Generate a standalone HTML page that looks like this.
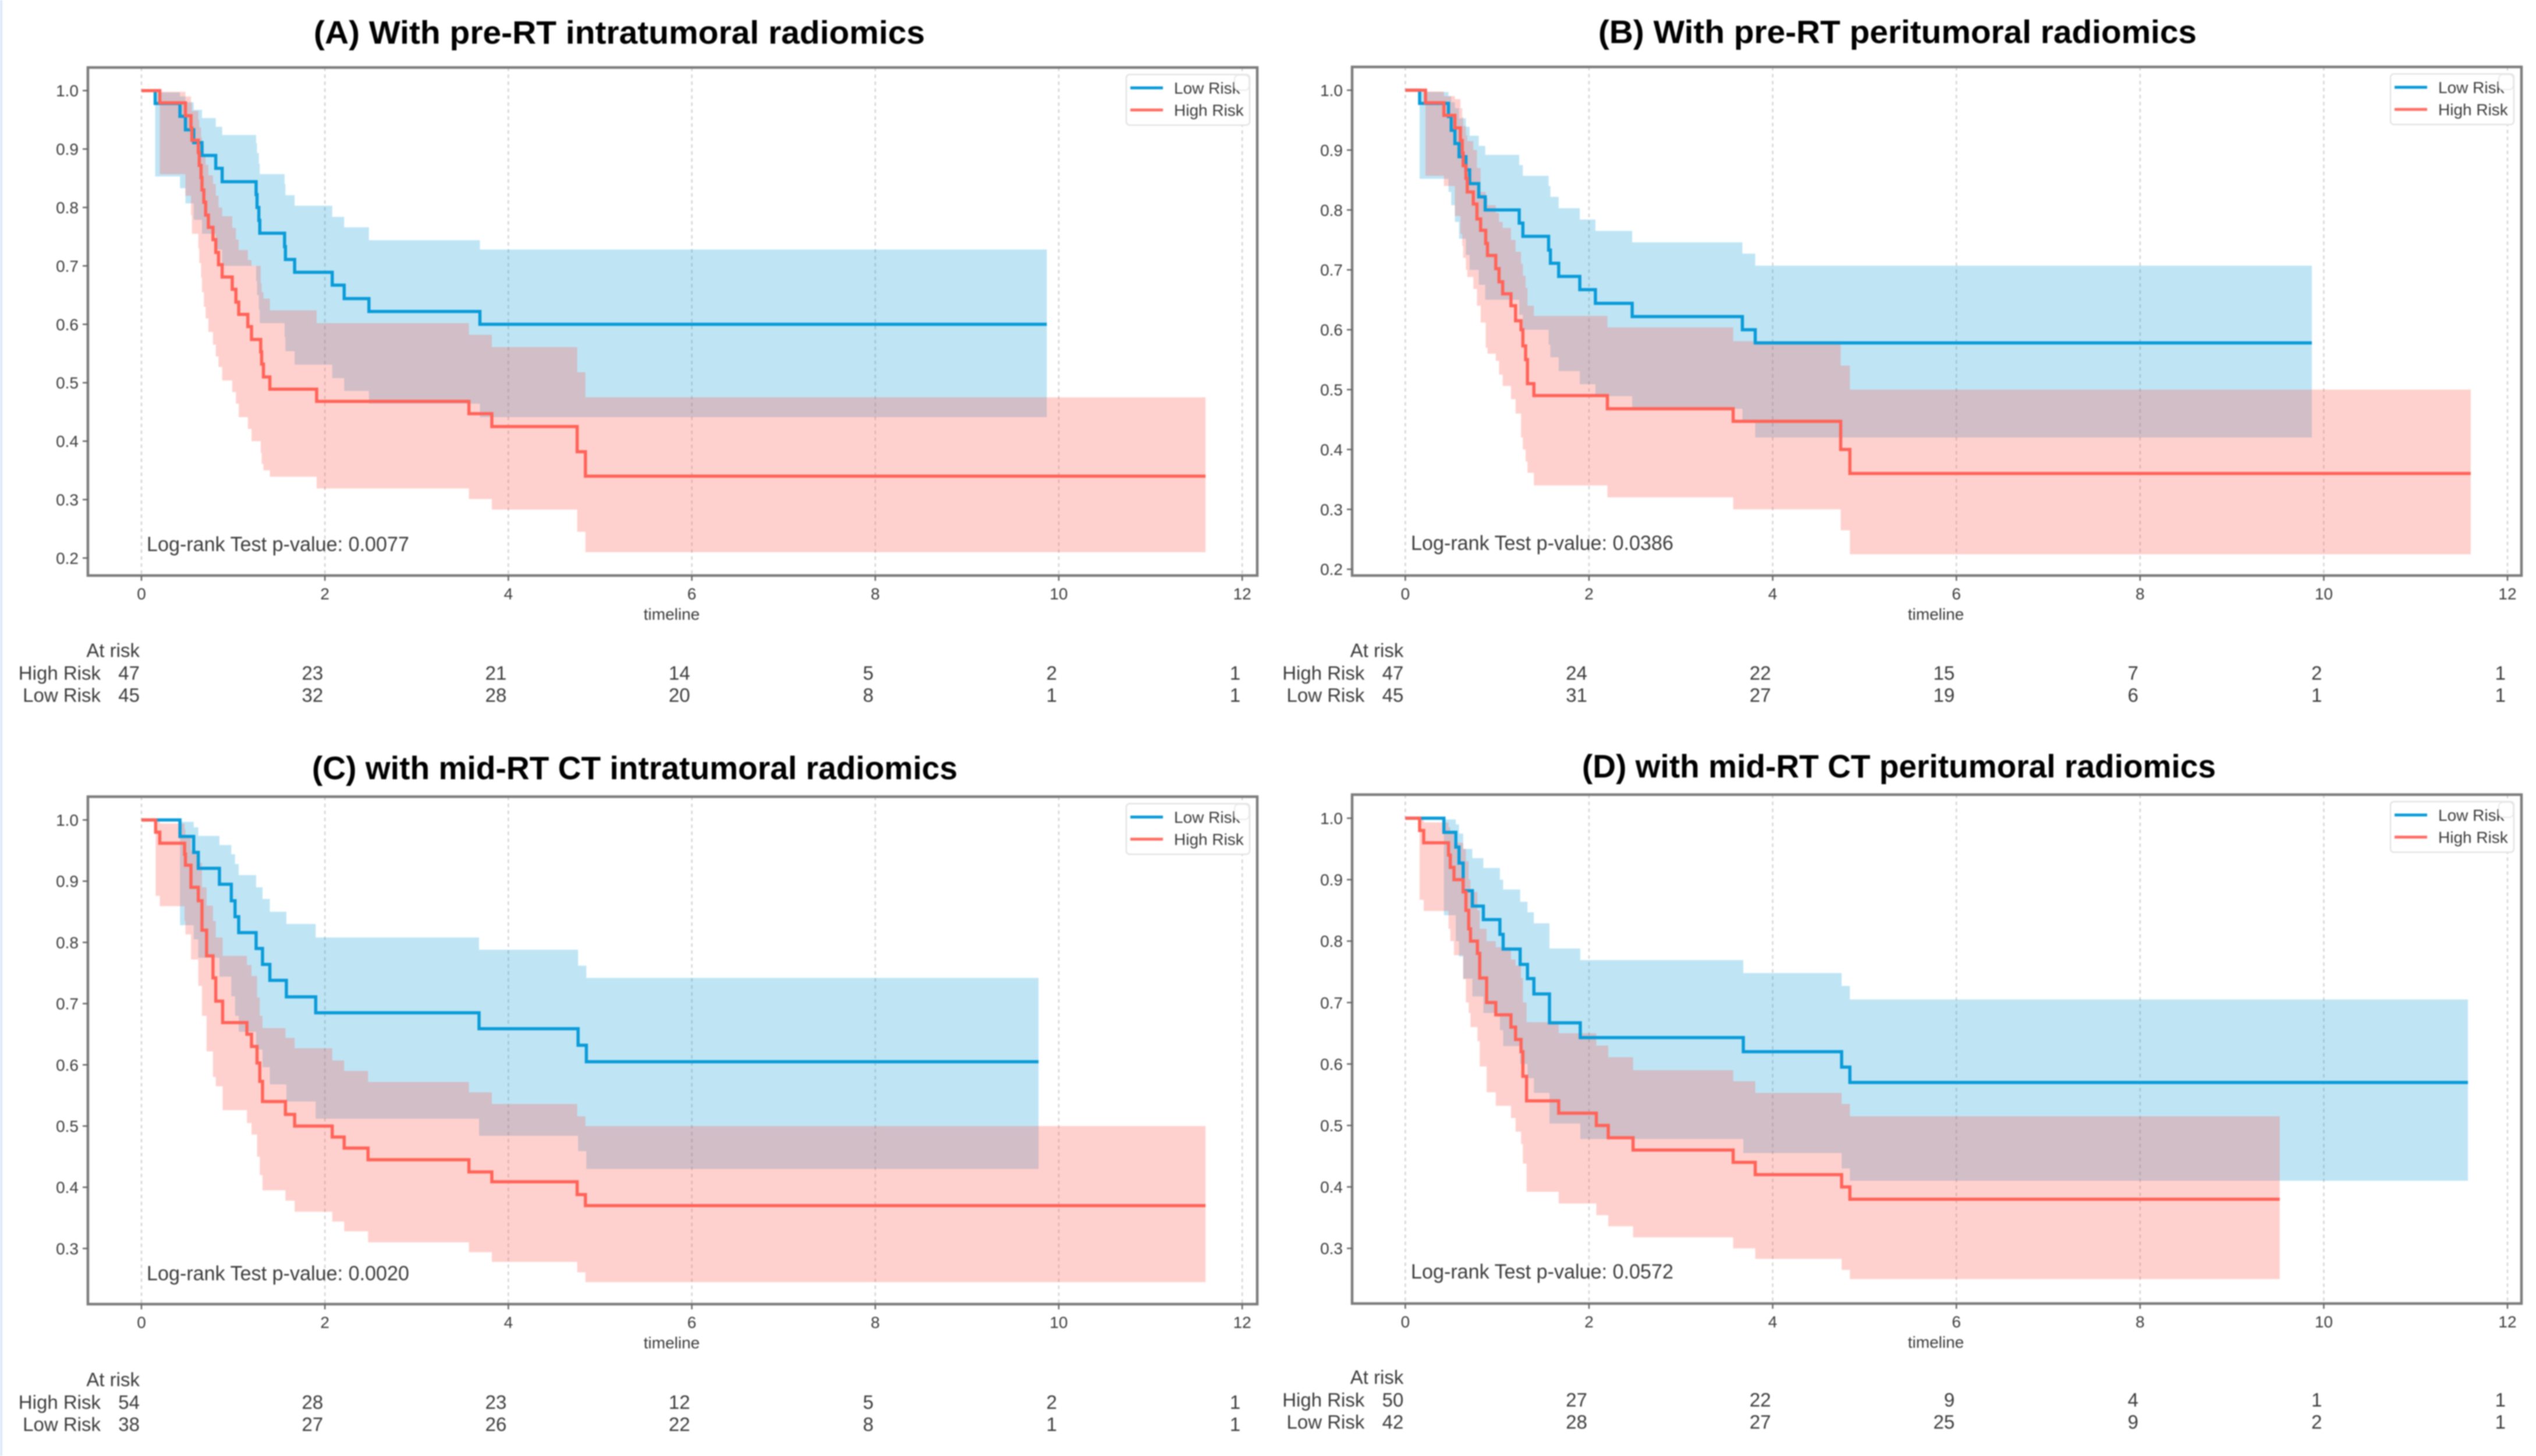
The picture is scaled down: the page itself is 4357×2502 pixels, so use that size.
<!DOCTYPE html>
<html lang="en">
<head>
<meta charset="utf-8">
<title>Kaplan-Meier curves by radiomics risk group</title>
<style>
html,body{margin:0;padding:0;background:#fff;width:4357px;height:2502px;overflow:hidden}
svg{display:block;filter:blur(1px)}
text{font-family:"Liberation Sans",sans-serif;fill:#3c3c3c}
</style>
</head>
<body>
<svg id="figure" xmlns="http://www.w3.org/2000/svg" width="4357" height="2502" viewBox="0 0 4357 2502">
<rect x="0" y="0" width="4357" height="2502" fill="#ffffff"/>
<rect x="0" y="0" width="4" height="2502" fill="#dbe8f7"/>
</svg>
<script>
// Shared tick labels
const xTickLabels = [0, 2, 4, 6, 8, 10, 12];
const yTickLabelsAB = [0.2, 0.3, 0.4, 0.5, 0.6, 0.7, 0.8, 0.9, 1.0];
const yTickLabelsCD = [0.3, 0.4, 0.5, 0.6, 0.7, 0.8, 0.9, 1.0];

// Panel A
const aLowTimes = [0,.15,.42,.48,.57,.66,.81,.88,1.25,1.26,1.28,1.29,1.56,1.57,1.67,2.08,2.21,2.48,3.69,9.87];
const aLowSurv  = [1,.978,.956,.933,.911,.889,.867,.844,.822,.80,.778,.756,.733,.711,.689,.667,.644,.622,.60,.60];
const aLowUpper = [1,.997,.99,.98,.967,.953,.938,.924,.91,.893,.875,.857,.84,.821,.803,.784,.766,.744,.728,.728];
const aLowLower = [1,.853,.833,.807,.779,.755,.728,.70,.674,.65,.625,.602,.578,.554,.531,.508,.486,.464,.441,.441];
const aHighTimes = [0,.20,.48,.54,.55,.62,.63,.65,.66,.68,.70,.73,.78,.81,.84,.88,.99,1.03,1.06,1.16,1.20,1.30,1.31,1.33,1.40,1.91,3.57,3.82,4.75,4.84,11.6];
const aHighSurv  = [1,.979,.957,.936,.915,.894,.872,.851,.83,.809,.787,.766,.745,.723,.702,.681,.66,.638,.617,.596,.574,.553,.532,.51,.489,.468,.447,.425,.382,.34,.34];
const aHighUpper = [1,.998,.99,.98,.965,.95,.937,.92,.907,.89,.873,.855,.84,.82,.80,.785,.765,.745,.727,.71,.70,.67,.655,.644,.624,.602,.582,.561,.518,.475,.475];
const aHighLower = [1,.857,.82,.787,.755,.73,.705,.68,.655,.63,.61,.587,.565,.545,.527,.504,.484,.464,.441,.421,.40,.38,.361,.35,.339,.319,.301,.283,.245,.21,.21];
const aRiskHigh = [47,23,21,14,5,2,1];
const aRiskLow  = [45,32,28,20,8,1,1];

// Panel B
const bLowTimes = [0,.156,.47,.50,.54,.585,.66,.70,.80,.87,1.24,1.28,1.56,1.58,1.67,1.90,2.07,2.47,3.67,3.81,9.87];
const bLowSurv  = [1,.978,.956,.933,.911,.889,.867,.844,.822,.80,.778,.756,.733,.711,.689,.667,.644,.622,.60,.578,.578];
const bLowUpper = [1,.997,.99,.98,.97,.953,.939,.924,.907,.892,.875,.857,.84,.822,.803,.784,.765,.746,.727,.707,.707];
const bLowLower = [1,.852,.83,.808,.78,.752,.725,.70,.675,.65,.625,.60,.575,.554,.531,.509,.489,.468,.445,.42,.42];
const bHighTimes = [0,.22,.42,.54,.60,.62,.63,.66,.675,.74,.78,.82,.875,.895,.985,1.02,1.06,1.15,1.20,1.26,1.28,1.31,1.33,1.40,2.20,3.57,4.74,4.84,11.6];
const bHighSurv  = [1,.979,.958,.937,.916,.895,.874,.853,.83,.81,.785,.766,.744,.724,.702,.68,.66,.64,.615,.60,.573,.55,.51,.49,.468,.447,.40,.36,.36];
const bHighUpper = [1,.998,.99,.985,.97,.955,.94,.925,.915,.90,.87,.83,.82,.808,.795,.78,.77,.75,.73,.71,.69,.67,.64,.623,.604,.581,.54,.50,.50];
const bHighLower = [1,.857,.84,.79,.76,.74,.72,.70,.688,.668,.64,.612,.57,.56,.548,.525,.506,.484,.46,.42,.40,.38,.361,.34,.32,.30,.265,.225,.225];
const bRiskHigh = [47,24,22,15,7,2,1];
const bRiskLow  = [45,31,27,19,6,1,1];

// Panel C
const cLowTimes = [0,.42,.57,.62,.85,.98,1.02,1.06,1.25,1.32,1.40,1.58,1.90,3.68,4.76,4.85,9.78];
const cLowSurv  = [1,.973,.947,.921,.895,.868,.842,.816,.79,.764,.738,.711,.685,.659,.632,.605,.605];
const cLowUpper = [1,.997,.988,.974,.959,.944,.928,.91,.89,.871,.85,.83,.808,.788,.762,.742,.742];
const cLowLower = [1,.828,.805,.775,.744,.712,.68,.654,.625,.596,.568,.54,.512,.484,.459,.43,.43];
const cHighTimes = [0,.155,.20,.47,.48,.54,.62,.66,.71,.78,.81,.885,1.15,1.20,1.26,1.29,1.32,1.57,1.67,2.08,2.21,2.47,3.57,3.82,4.75,4.84,11.6];
const cHighSurv  = [1,.98,.962,.944,.926,.89,.868,.82,.778,.742,.704,.669,.65,.63,.603,.573,.54,.519,.50,.482,.464,.445,.425,.409,.388,.37,.37];
const cHighUpper = [1,.997,.994,.985,.975,.95,.93,.89,.86,.835,.808,.778,.763,.745,.71,.68,.66,.644,.627,.607,.59,.572,.555,.536,.516,.50,.50];
const cHighLower = [1,.876,.859,.835,.813,.772,.729,.68,.622,.58,.565,.526,.505,.486,.45,.42,.395,.378,.36,.344,.328,.31,.294,.278,.261,.245,.245];
const cRiskHigh = [54,28,23,12,5,2,1];
const cRiskLow  = [38,27,26,22,8,1,1];

// Panel D
const dLowTimes = [0,.42,.55,.585,.63,.73,.85,1.03,1.065,1.25,1.33,1.40,1.57,1.905,3.68,4.75,4.84,11.57];
const dLowSurv  = [1,.977,.953,.927,.882,.857,.835,.811,.787,.762,.739,.714,.667,.643,.62,.595,.57,.57];
const dLowUpper = [1,.998,.99,.975,.95,.935,.919,.90,.884,.864,.847,.829,.788,.769,.748,.727,.705,.705];
const dLowLower = [1,.842,.80,.775,.739,.71,.683,.655,.629,.60,.577,.553,.503,.478,.455,.43,.41,.41];
const dHighTimes = [0,.156,.20,.47,.49,.53,.63,.66,.69,.71,.785,.81,.885,.985,1.15,1.20,1.26,1.28,1.32,1.67,2.08,2.21,2.48,3.57,3.81,4.75,4.84,9.52];
const dHighSurv  = [1,.98,.96,.94,.92,.90,.88,.85,.82,.80,.78,.74,.70,.68,.66,.64,.62,.58,.54,.52,.50,.48,.46,.44,.42,.40,.38,.38];
const dHighUpper = [1,.998,.993,.985,.975,.96,.95,.93,.90,.88,.85,.82,.80,.79,.77,.76,.74,.70,.668,.65,.63,.611,.59,.572,.553,.535,.515,.515];
const dHighLower = [1,.867,.849,.82,.80,.777,.738,.70,.683,.66,.637,.596,.554,.532,.512,.49,.47,.438,.392,.373,.354,.336,.318,.30,.283,.265,.25,.25];
const dRiskHigh = [50,27,22,9,4,1,1];
const dRiskLow  = [42,28,27,25,9,2,1];

const SVG_NS = 'http://www.w3.org/2000/svg';
const figure = document.getElementById('figure');

function make(tag, parent, attrs, content) {
  const node = document.createElementNS(SVG_NS, tag);
  for (const key in attrs) node.setAttribute(key, attrs[key]);
  if (content !== undefined) node.textContent = content;
  parent.appendChild(node);
  return node;
}

function stepLine(times, values, xs, ys) {
  let d = 'M' + xs(times[0]).toFixed(1) + ' ' + ys(values[0]).toFixed(1);
  for (let i = 1; i < times.length; i++) {
    d += 'H' + xs(times[i]).toFixed(1) + 'V' + ys(values[i]).toFixed(1);
  }
  return d;
}

function stepBand(times, upper, lower, xs, ys) {
  let d = stepLine(times, upper, xs, ys);
  for (let i = times.length - 1; i >= 1; i--) {
    d += 'V' + ys(lower[i - 1]).toFixed(1);
    d += 'H' + xs(times[i - 1]).toFixed(1);
  }
  return d + 'Z';
}

function drawPanel(p) {
  const xs = t => p.x0 + t * p.xUnit;
  const ys = v => p.y1 + (1 - v) * p.yUnit;

  const g = make('g', figure, {});
  
  

  const title = make('text', g, {x: p.titleX, y: p.titleY, 'font-size': 56, 'font-weight': 700, textLength: p.titleW, lengthAdjust: 'spacingAndGlyphs', style: 'fill:#000'}, p.title);
  
  

  // grid lines
  xTickLabels.forEach(tick => {
    const grid = make('line', g, {x1: xs(tick), x2: xs(tick), y1: p.top, y2: p.bottom, stroke: '#d4d4d4', 'stroke-width': 2.5, 'stroke-dasharray': '6 6'});
    
    
  });

  // confidence bands
  const lowBand = make('path', g, {d: stepBand(p.low.t, p.low.u, p.low.l, xs, ys), fill: '#0099d8', 'fill-opacity': 0.25});
  
  
  const highBand = make('path', g, {d: stepBand(p.high.t, p.high.u, p.high.l, xs, ys), fill: '#ff5a50', 'fill-opacity': 0.28});
  
  

  // survival curves
  const lowLine = make('path', g, {d: stepLine(p.low.t, p.low.s, xs, ys), fill: 'none', stroke: '#0a9bd8', 'stroke-width': 5.5});
  
  
  const highLine = make('path', g, {d: stepLine(p.high.t, p.high.s, xs, ys), fill: 'none', stroke: '#ff6459', 'stroke-width': 5.5});
  
  

  // frame
  const frame = make('rect', g, {x: p.left, y: p.top, width: p.right - p.left, height: p.bottom - p.top, fill: 'none', stroke: '#7c7c7c', 'stroke-width': 4.5});
  
  

  // x axis
  xTickLabels.forEach(tick => {
    const mark = make('line', g, {x1: xs(tick), x2: xs(tick), y1: p.bottom, y2: p.bottom + 9, stroke: '#666', 'stroke-width': 2.5});
    
    
    const label = make('text', g, {x: xs(tick), y: p.bottom + 41, 'font-size': 28, 'text-anchor': 'middle'}, String(tick));
    
    
  });

  // y axis
  p.yTicks.forEach(tick => {
    const mark = make('line', g, {x1: p.left - 9, x2: p.left, y1: ys(tick), y2: ys(tick), stroke: '#666', 'stroke-width': 2.5});
    
    
    const label = make('text', g, {x: p.left - 16, y: ys(tick) + 10, 'font-size': 28, 'text-anchor': 'end'}, tick.toFixed(1));
    
    
  });

  const xTitle = make('text', g, {x: p.left + 1003, y: p.bottom + 76, 'font-size': 28, 'text-anchor': 'middle'}, 'timeline');
  
  

  const pValue = make('text', g, {x: p.pX, y: p.pY, 'font-size': 35, textLength: 451, lengthAdjust: 'spacingAndGlyphs'}, p.pText);
  
  

  // legend
  const lx = p.right - 225, ly = p.top + 12;
  const legend = make('g', g, {});
  
  
  const legendBox = make('rect', legend, {x: lx, y: ly, width: 212, height: 87, rx: 6, fill: '#fff', stroke: '#e4e4e4', 'stroke-width': 2.5});
  
  
  const lowKey = make('line', legend, {x1: lx + 7, x2: lx + 63, y1: ly + 23, y2: ly + 23, stroke: '#0a9bd8', 'stroke-width': 5});
  
  
  const lowText = make('text', legend, {x: lx + 82, y: ly + 33, 'font-size': 28}, 'Low Risk');
  
  
  const highKey = make('line', legend, {x1: lx + 7, x2: lx + 63, y1: ly + 61, y2: ly + 61, stroke: '#ff6f66', 'stroke-width': 5});
  
  
  const highText = make('text', legend, {x: lx + 82, y: ly + 71, 'font-size': 28}, 'High Risk');
  
  
  const patch = make('rect', legend, {x: lx + 186, y: ly + 1, width: 25, height: 26, rx: 7, fill: '#fff', stroke: '#e8e8e8', 'stroke-width': 2});
  
  

  // at-risk table
  const table = make('g', g, {'font-size': 33});
  
  
  const heading = make('text', table, {x: xs(0) - 3, y: p.riskY, 'font-size': 33, 'text-anchor': 'end'}, 'At risk');
  
  
  const highRow = make('text', table, {x: xs(0) - 70, y: p.riskY + 39, 'font-size': 33, 'text-anchor': 'end'}, 'High Risk');
  
  
  const lowRow = make('text', table, {x: xs(0) - 70, y: p.riskY + 77, 'font-size': 33, 'text-anchor': 'end'}, 'Low Risk');
  
  
  xTickLabels.forEach((tick, i) => {
    const hi = make('text', table, {x: xs(tick) - 3, y: p.riskY + 39, 'font-size': 33, 'text-anchor': 'end'}, String(p.riskHigh[i]));
    
    
    const lo = make('text', table, {x: xs(tick) - 3, y: p.riskY + 77, 'font-size': 33, 'text-anchor': 'end'}, String(p.riskLow[i]));
    
    
  });
}

drawPanel({
  id: 'a', title: '(A) With pre-RT intratumoral radiomics', titleX: 539, titleY: 75, titleW: 1050,
  left: 151, right: 2160, top: 116, bottom: 989, x0: 243, xUnit: 157.6, y1: 155.7, yUnit: 1004,
  yTicks: yTickLabelsAB, pX: 252, pY: 947, pText: 'Log-rank Test p-value: 0.0077', riskY: 1129,
  low: {t: aLowTimes, s: aLowSurv, u: aLowUpper, l: aLowLower},
  high: {t: aHighTimes, s: aHighSurv, u: aHighUpper, l: aHighLower},
  riskHigh: aRiskHigh, riskLow: aRiskLow
});
drawPanel({
  id: 'b', title: '(B) With pre-RT peritumoral radiomics', titleX: 2746, titleY: 74, titleW: 1028,
  left: 2323, right: 4332, top: 115, bottom: 989, x0: 2414.4, xUnit: 157.8, y1: 155, yUnit: 1029,
  yTicks: yTickLabelsAB, pX: 2424, pY: 945, pText: 'Log-rank Test p-value: 0.0386', riskY: 1129,
  low: {t: bLowTimes, s: bLowSurv, u: bLowUpper, l: bLowLower},
  high: {t: bHighTimes, s: bHighSurv, u: bHighUpper, l: bHighLower},
  riskHigh: bRiskHigh, riskLow: bRiskLow
});
drawPanel({
  id: 'c', title: '(C) with mid-RT CT intratumoral radiomics', titleX: 536, titleY: 1339, titleW: 1109,
  left: 151, right: 2160, top: 1369, bottom: 2241, x0: 243, xUnit: 157.6, y1: 1409, yUnit: 1052,
  yTicks: yTickLabelsCD, pX: 252, pY: 2200, pText: 'Log-rank Test p-value: 0.0020', riskY: 2382,
  low: {t: cLowTimes, s: cLowSurv, u: cLowUpper, l: cLowLower},
  high: {t: cHighTimes, s: cHighSurv, u: cHighUpper, l: cHighLower},
  riskHigh: cRiskHigh, riskLow: cRiskLow
});
drawPanel({
  id: 'd', title: '(D) with mid-RT CT peritumoral radiomics', titleX: 2718, titleY: 1336, titleW: 1089,
  left: 2323, right: 4332, top: 1365.5, bottom: 2240, x0: 2414.4, xUnit: 157.8, y1: 1406, yUnit: 1056,
  yTicks: yTickLabelsCD, pX: 2424, pY: 2197, pText: 'Log-rank Test p-value: 0.0572', riskY: 2378,
  low: {t: dLowTimes, s: dLowSurv, u: dLowUpper, l: dLowLower},
  high: {t: dHighTimes, s: dHighSurv, u: dHighUpper, l: dHighLower},
  riskHigh: dRiskHigh, riskLow: dRiskLow
});
</script>
</body>
</html>
